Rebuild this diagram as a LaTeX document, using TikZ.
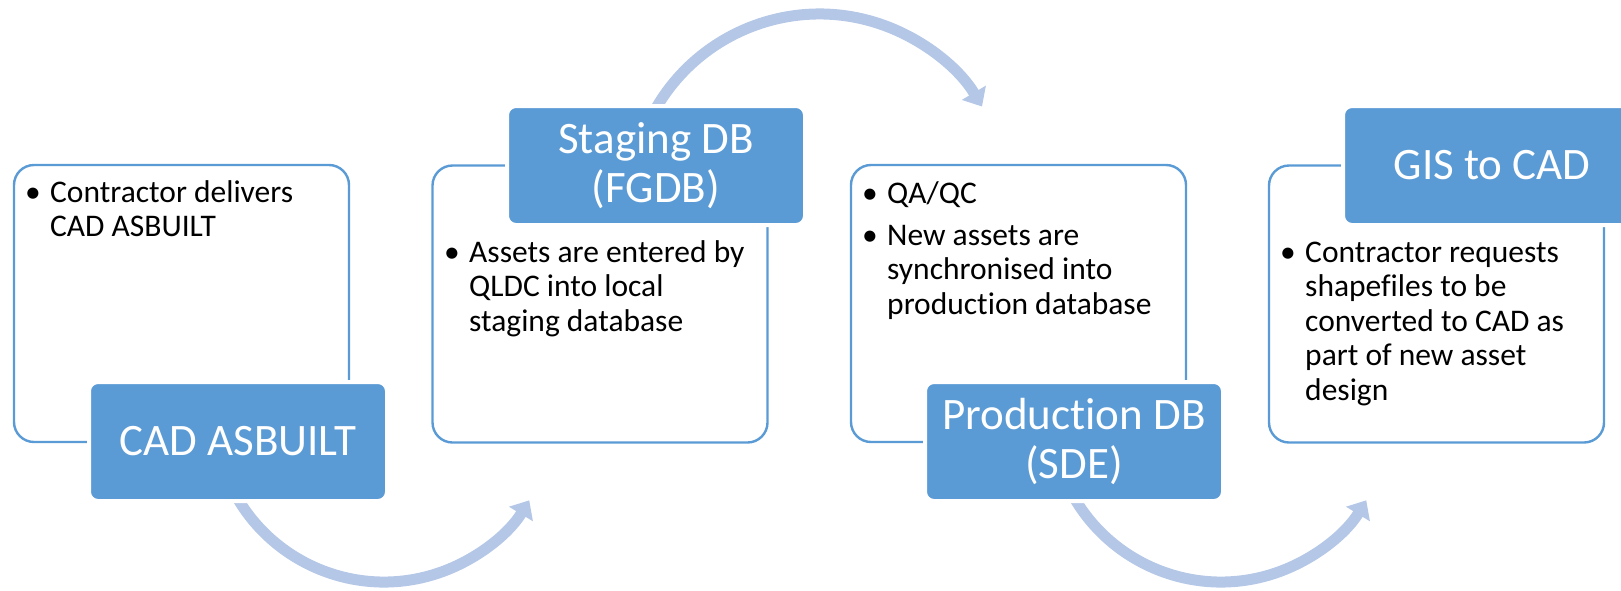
\documentclass[tikz,border=0pt]{standalone}
\usepackage{fontspec}
\setmainfont{Carlito}[Ligatures={NoCommon}]
\usetikzlibrary{arrows.meta,calc}
\definecolor{boxblue}{HTML}{5B9BD5}
\definecolor{arcblue}{HTML}{B4C7E7}
\newcommand{\lines}[1]{\begin{tabular}[t]{@{}l@{}}#1\end{tabular}}
\begin{document}
\begin{tikzpicture}[x=1pt,y=1pt,
  panel/.style={draw=boxblue, line width=2.4pt, fill=white, rounded corners=20pt,
    minimum width=335pt, minimum height=277pt, inner sep=0pt},
  titlebox/.style={fill=boxblue, draw=white, line width=4pt, rounded corners=9pt,
    minimum width=298pt, minimum height=119pt, text=white, align=center,
    font=\fontsize{45}{48.5}\selectfont, inner sep=0pt},
  body/.style={anchor=base west, inner sep=0pt,
    font=\fontsize{31.5}{34.5}\selectfont},
  dot/.style={anchor=base, inner sep=0pt, font=\fontsize{31.5}{34.5}\selectfont},
  flow/.style={draw=arcblue, line width=11pt, -{Triangle[length=16pt,width=27pt]}}]
\useasboundingbox (0,0) rectangle (1621,-590);
\clip (0,0) rectangle (1621,-590);

% connector arcs (drawn first, partly hidden by title boxes)
\coordinate (a1s) at ($(384,-412)+(200:170)$);
\coordinate (a2s) at ($(819.5,-203)+(160:189)$);
\coordinate (a3s) at ($(1221,-412)+(200:170)$);
\draw[flow] (a1s) arc[start angle=200, end angle=328.7, radius=170];
\draw[flow] (a2s) arc[start angle=160, end angle=30.7, radius=189];
\draw[flow] (a3s) arc[start angle=200, end angle=328.7, radius=170];

% panels
\node[panel] (p1) at (181.5,-303.5) {};
\node[panel] (p2) at (600,-304) {};
\node[panel] (p3) at (1018.5,-303.5) {};
\node[panel] (p4) at (1436.5,-304) {};

% title boxes
\node[titlebox] (t1) at (238,-441.5) {CAD ASBUILT};
\node[titlebox] (t2) at (656,-165.5) {Staging DB\\(FGDB)};
\node[titlebox] (t3) at (1074,-441.5) {Produc\kern0pt tion DB\\(SDE)};
\node[titlebox] (t4) at (1492,-165.5) {GIS to CAD};

% body texts
\node[dot] (d1) at (33,-202) {•};
\node[body] (b1) at (50,-202) {\lines{Contractor delivers\\CAD ASBUILT}};

\node[dot] (d2) at (452,-262) {•};
\node[body] (b2) at (469,-262) {\lines{Assets are entered by\\QLDC into local\\staging database}};

\node[dot] (d3a) at (870,-203) {•};
\node[body] (b3a) at (887,-203) {QA/QC};
\node[dot] (d3b) at (870,-245) {•};
\node[body] (b3b) at (887,-245) {\lines{New assets are\\synchronised into\\produc\kern0pt tion database}};

\node[dot] (d4) at (1288,-262) {•};
\node[body] (b4) at (1305,-262) {\lines{Contractor requests\\shapefiles to be\\converted to CAD as\\part of new asset\\design}};
\end{tikzpicture}
\end{document}
